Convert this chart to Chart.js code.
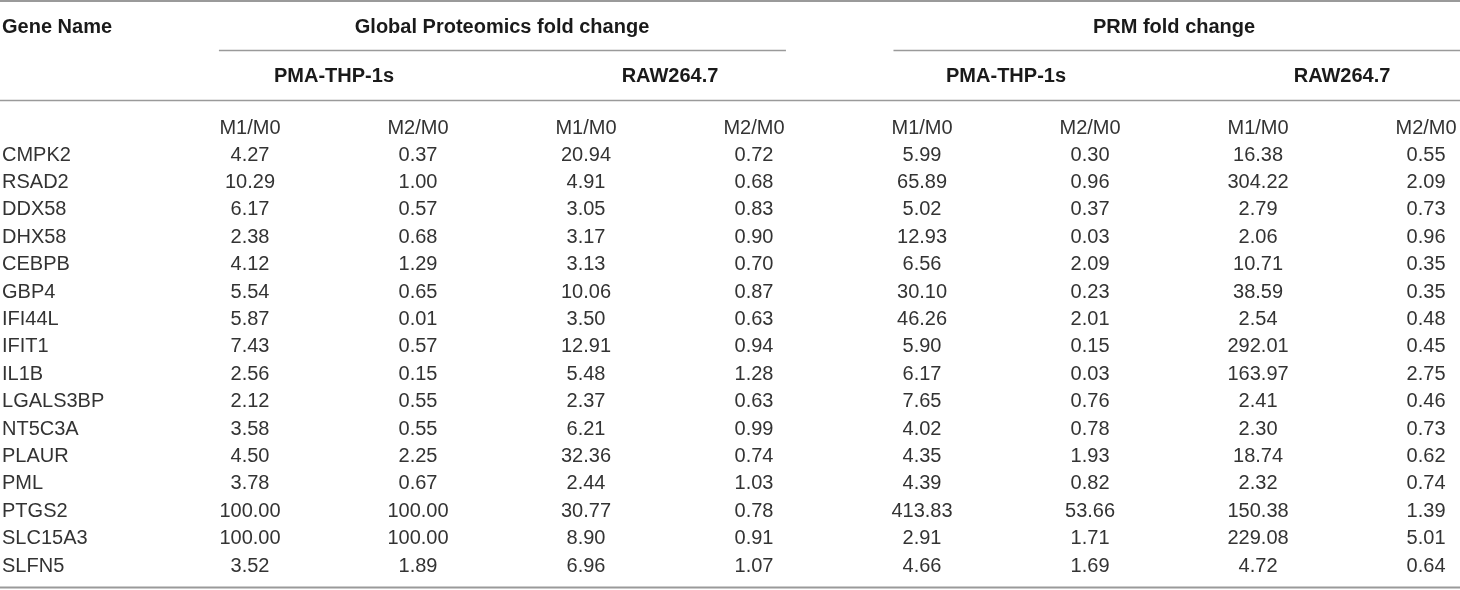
<!DOCTYPE html>
<html>
<head>
<meta charset="utf-8">
<script src="https://cdn.jsdelivr.net/npm/chart.js@4/dist/chart.umd.min.js"></script>
<style>
  html, body { margin: 0; padding: 0; background: #ffffff; }
  #wrap { width: 1460px; height: 590px; position: relative; }
</style>
</head>
<body>
<div id="wrap"><canvas id="c" width="1460" height="590"></canvas></div>
<script>
// ---- data ----
const genes = ["CMPK2","RSAD2","DDX58","DHX58","CEBPB","GBP4","IFI44L","IFIT1","IL1B","LGALS3BP","NT5C3A","PLAUR","PML","PTGS2","SLC15A3","SLFN5"];
const groupTitles = ["Global Proteomics fold change", "PRM fold change"];
const cellLines = ["PMA-THP-1s", "RAW264.7", "PMA-THP-1s", "RAW264.7"];
const ratioLabels = ["M1/M0", "M2/M0", "M1/M0", "M2/M0", "M1/M0", "M2/M0", "M1/M0", "M2/M0"];
const firstHeader = "Gene Name";

const globalThpM1 = [4.27,10.29,6.17,2.38,4.12,5.54,5.87,7.43,2.56,2.12,3.58,4.50,3.78,100.00,100.00,3.52];
const globalThpM2 = [0.37,1.00,0.57,0.68,1.29,0.65,0.01,0.57,0.15,0.55,0.55,2.25,0.67,100.00,100.00,1.89];
const globalRawM1 = [20.94,4.91,3.05,3.17,3.13,10.06,3.50,12.91,5.48,2.37,6.21,32.36,2.44,30.77,8.90,6.96];
const globalRawM2 = [0.72,0.68,0.83,0.90,0.70,0.87,0.63,0.94,1.28,0.63,0.99,0.74,1.03,0.78,0.91,1.07];
const prmThpM1 = [5.99,65.89,5.02,12.93,6.56,30.10,46.26,5.90,6.17,7.65,4.02,4.35,4.39,413.83,2.91,4.66];
const prmThpM2 = [0.30,0.96,0.37,0.03,2.09,0.23,2.01,0.15,0.03,0.76,0.78,1.93,0.82,53.66,1.71,1.69];
const prmRawM1 = [16.38,304.22,2.79,2.06,10.71,38.59,2.54,292.01,163.97,2.41,2.30,18.74,2.32,150.38,229.08,4.72];
const prmRawM2 = [0.55,2.09,0.73,0.96,0.35,0.35,0.48,0.45,2.75,0.46,0.73,0.62,0.74,1.39,5.01,0.64];

const columns = [globalThpM1, globalThpM2, globalRawM1, globalRawM2, prmThpM1, prmThpM2, prmRawM1, prmRawM2];

// ---- layout (scale units: x = column index, y = row index) ----
const X_MIN = -1.488, X_MAX = 7.202;
const Y_MIN = -5.657, Y_MAX = 15.876;
const GENE_X = -1.476;
const ROW_RATIO = -0.97, ROW_CELL = -2.85, ROW_GROUP = -4.67;

const FONT_BOLD = "bold 20px 'Liberation Sans', Arial, sans-serif";
const FONT_REG = "20px 'Liberation Sans', Arial, sans-serif";
const TEXT_BOLD = "#1a1a1a";
const TEXT_REG = "#333333";
const RULE = "#9a9a9a";

const datasets = columns.map((vals, ci) => ({
  label: ratioLabels[ci],
  data: vals.map((v, ri) => ({ x: ci, y: ri, v: v })),
  pointRadius: 0,
  pointHoverRadius: 0,
  showLine: false
}));

const tablePlugin = {
  id: 'tablePlugin',
  afterDatasetsDraw(chart) {
    const ctx = chart.ctx;
    const xs = chart.scales.x, ys = chart.scales.y;
    const X = v => xs.getPixelForValue(v);
    const Y = v => ys.getPixelForValue(v);
    ctx.save();

    // rules
    ctx.strokeStyle = RULE;
    const hline = (yv, x0, x1, w) => {
      ctx.lineWidth = w;
      ctx.beginPath();
      ctx.moveTo(X(x0), Y(yv));
      ctx.lineTo(X(x1), Y(yv));
      ctx.stroke();
    };
    hline(-5.62, X_MIN, X_MAX, 2);
    hline(-3.81, -0.185, 3.19, 1.5);
    hline(-3.81, 3.83, X_MAX, 1.5);
    hline(-1.99, X_MIN, X_MAX, 1.5);
    hline(15.785, X_MIN, X_MAX, 2);

    ctx.textBaseline = 'middle';

    // header: first column + group titles
    ctx.font = FONT_BOLD;
    ctx.fillStyle = TEXT_BOLD;
    ctx.textAlign = 'left';
    ctx.fillText(firstHeader, X(GENE_X), Y(ROW_GROUP));
    ctx.textAlign = 'center';
    groupTitles.forEach((t, gi) => ctx.fillText(t, X(gi * 4 + 1.5), Y(ROW_GROUP)));
    cellLines.forEach((t, i) => ctx.fillText(t, X(i * 2 + 0.5), Y(ROW_CELL)));

    // ratio labels
    ctx.font = FONT_REG;
    ctx.fillStyle = TEXT_REG;
    ratioLabels.forEach((t, i) => ctx.fillText(t, X(i), Y(ROW_RATIO)));

    // gene names
    ctx.textAlign = 'left';
    genes.forEach((g, ri) => ctx.fillText(g, X(GENE_X), Y(ri)));

    // cells via dataset elements
    ctx.textAlign = 'center';
    chart.data.datasets.forEach((ds, di) => {
      const meta = chart.getDatasetMeta(di);
      meta.data.forEach((el, i) => {
        ctx.fillText(ds.data[i].v.toFixed(2), el.x, el.y);
      });
    });
    ctx.restore();
  }
};

new Chart(document.getElementById('c'), {
  type: 'scatter',
  data: { datasets: datasets },
  options: {
    responsive: false,
    animation: false,
    events: [],
    layout: { padding: 0 },
    plugins: { legend: { display: false }, tooltip: { enabled: false } },
    scales: {
      x: { type: 'linear', min: X_MIN, max: X_MAX, display: false },
      y: { type: 'linear', min: Y_MIN, max: Y_MAX, reverse: true, display: false }
    }
  },
  plugins: [tablePlugin]
});
</script>
</body>
</html>
